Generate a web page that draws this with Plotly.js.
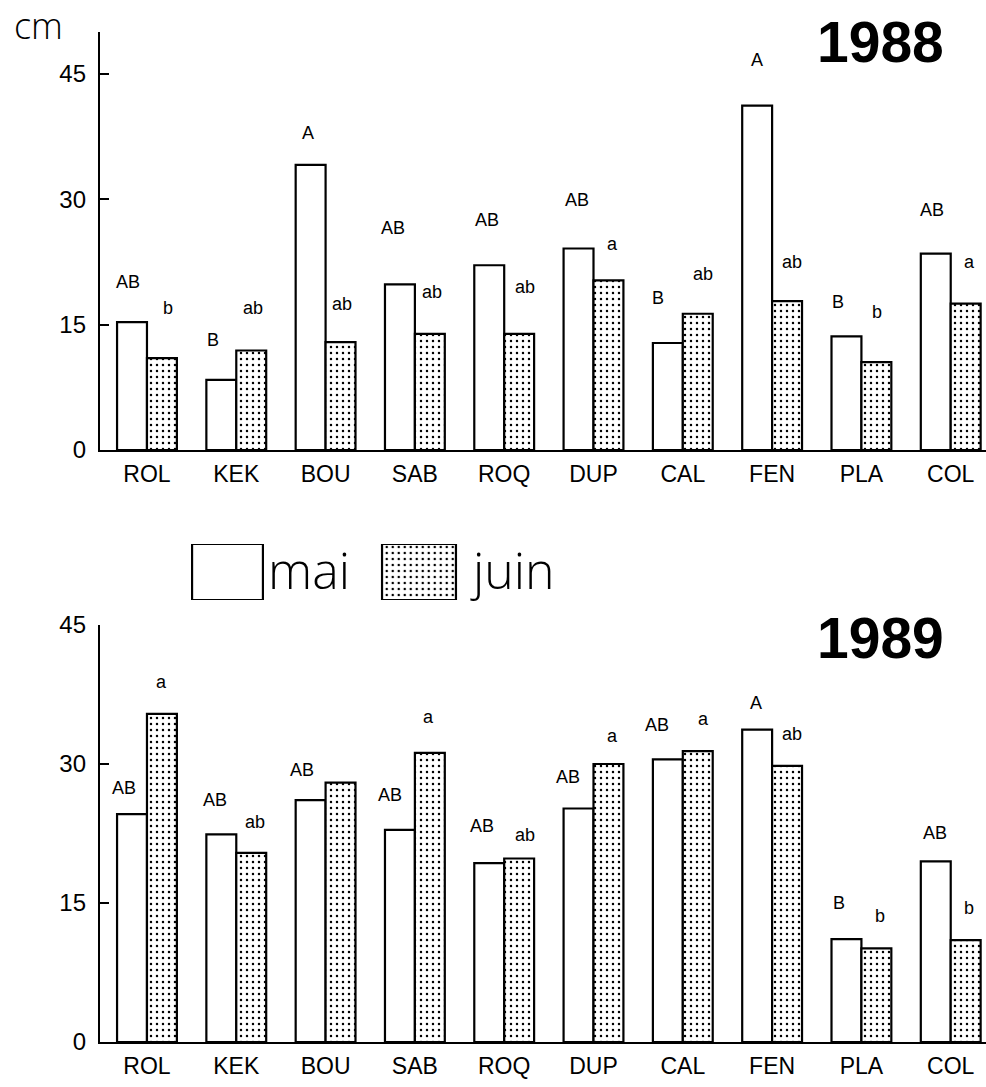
<!DOCTYPE html>
<html>
<head>
<meta charset="utf-8">
<script src="https://cdn.plot.ly/plotly-3.0.1.min.js"></script>
<style>
  html, body { margin: 0; padding: 0; background: #fff; }
  #chart { width: 986px; height: 1087px; }
</style>
</head>
<body>
<div id="chart"></div>
<script>
// Sites sampled, in plotting order
const sites = ['ROL', 'KEK', 'BOU', 'SAB', 'ROQ', 'DUP', 'CAL', 'FEN', 'PLA', 'COL'];

// Mean height (cm), 1988
const mai1988  = [15.3, 8.4, 34.1, 19.8, 22.1, 24.1, 12.8, 41.2, 13.6, 23.5];
const juin1988 = [11.0, 11.9, 12.9, 13.9, 13.9, 20.3, 16.3, 17.8, 10.5, 17.5];

// Mean height (cm), 1989
const mai1989  = [24.6, 22.4, 26.1, 22.9, 19.3, 25.2, 30.5, 33.7, 11.1, 19.5];
const juin1989 = [35.4, 20.4, 28.0, 31.2, 19.8, 30.0, 31.4, 29.8, 10.1, 11.0];

// Significance groups (upper case: mai, lower case: juin)
const maiGroups1988  = ['AB', 'B', 'A', 'AB', 'AB', 'AB', 'B', 'A', 'B', 'AB'];
const juinGroups1988 = ['b', 'ab', 'ab', 'ab', 'ab', 'a', 'ab', 'ab', 'b', 'a'];
const maiGroups1989  = ['AB', 'AB', 'AB', 'AB', 'AB', 'AB', 'AB', 'A', 'B', 'AB'];
const juinGroups1989 = ['a', 'ab', '', 'a', 'ab', 'a', 'a', 'ab', 'b', 'b'];

// Legend keys
const legendKeys = ['mai', 'juin'];
const legendKeyHeight = [1, 1];

// Placement of the group letters: horizontal nudge (in category units)
// and lift above the bar top (in cm)
const place = {
  mai1988:  { dx: [-0.21, -0.26, -0.20, -0.245, -0.19, -0.185, -0.28, -0.17, -0.26, -0.21],
              lift: [4.75, 4.8, 3.8, 6.8, 5.4, 5.8, 5.4, 5.45, 4.1, 5.2] },
  juin1988: { dx: [0.235, 0.187, 0.184, 0.19, 0.233, 0.218, 0.226, 0.223, 0.175, 0.205],
              lift: [6.0, 5.1, 4.6, 4.95, 5.6, 4.3, 4.7, 4.7, 6.0, 5.0] },
  mai1989:  { dx: [-0.258, -0.239, -0.268, -0.279, -0.252, -0.282, -0.292, -0.18, -0.247, -0.176],
              lift: [2.8, 3.7, 3.2, 3.8, 3.96, 3.45, 3.73, 2.9, 3.9, 3.05] },
  juin1989: { dx: [0.157, 0.209, 0, 0.15, 0.233, 0.215, 0.237, 0.22, 0.208, 0.208],
              lift: [3.4, 3.35, 0, 3.86, 2.5, 2.97, 3.5, 3.46, 3.45, 3.46] }
};

const W = 986, H = 1087;
const FONT = 'Liberation Sans, Arial, Helvetica, sans-serif';
const LIGHT = 'Open Sans, Lato, Liberation Sans, sans-serif';

const openBar = {
  color: '#ffffff',
  line: { color: '#000000', width: 2.2 }
};
const dottedBar = {
  color: '#ffffff',
  line: { color: '#000000', width: 2.2 },
  pattern: { shape: '.', fgcolor: '#000000', bgcolor: '#ffffff', size: 6, solidity: 0.13, fillmode: 'replace' }
};

function barTrace(y, marker, xa, ya, name) {
  return {
    type: 'bar', x: sites, y: y, name: name,
    xaxis: xa, yaxis: ya, marker: marker,
    hoverinfo: 'skip', showlegend: false
  };
}

const traces = [
  barTrace(mai1988, openBar, 'x', 'y', 'mai'),
  barTrace(juin1988, dottedBar, 'x', 'y', 'juin'),
  barTrace(mai1989, openBar, 'x2', 'y2', 'mai'),
  barTrace(juin1989, dottedBar, 'x2', 'y2', 'juin'),
  // legend swatches
  { type: 'bar', x: [0], y: [legendKeyHeight[0]], width: [0.37], xaxis: 'x3', yaxis: 'y3',
    marker: openBar, hoverinfo: 'skip', showlegend: false },
  { type: 'bar', x: [1], y: [legendKeyHeight[1]], width: [0.386], xaxis: 'x3', yaxis: 'y3',
    marker: dottedBar, hoverinfo: 'skip', showlegend: false }
];

// Letters above bars
const annotations = [];
function addLetters(groups, values, p, xref, yref) {
  groups.forEach((g, i) => {
    if (!g) return;
    annotations.push({
      xref: xref, yref: yref,
      x: i + p.dx[i], y: values[i] + p.lift[i],
      text: g, showarrow: false,
      xanchor: 'center', yanchor: 'middle',
      font: { family: FONT, size: 18, color: '#000' }
    });
  });
}
addLetters(maiGroups1988, mai1988, place.mai1988, 'x', 'y');
addLetters(juinGroups1988, juin1988, place.juin1988, 'x', 'y');
addLetters(maiGroups1989, mai1989, place.mai1989, 'x2', 'y2');
addLetters(juinGroups1989, juin1989, place.juin1989, 'x2', 'y2');

// Year titles, unit label, legend text
annotations.push(
  { xref: 'paper', yref: 'paper', x: 880 / W, y: 1 - 42 / H, text: '<b>1988</b>',
    showarrow: false, xanchor: 'center', yanchor: 'middle',
    font: { family: FONT, size: 57, color: '#000' } },
  { xref: 'paper', yref: 'paper', x: 880 / W, y: 1 - 638 / H, text: '<b>1989</b>',
    showarrow: false, xanchor: 'center', yanchor: 'middle',
    font: { family: FONT, size: 57, color: '#000' } },
  { xref: 'paper', yref: 'paper', x: 38 / W, y: 1, text: 'cm',
    showarrow: false, xanchor: 'center', yanchor: 'top', borderpad: 0,
    font: { family: LIGHT, size: 36, color: '#000', weight: 300 } },
  { xref: 'paper', yref: 'paper', x: 266 / W, y: 1 - 570 / H, text: legendKeys[0],
    showarrow: false, xanchor: 'left', yanchor: 'middle',
    font: { family: LIGHT, size: 50, color: '#000', weight: 300 } },
  { xref: 'paper', yref: 'paper', x: 468 / W, y: 1 - 570 / H, text: legendKeys[1],
    showarrow: false, xanchor: 'left', yanchor: 'middle',
    font: { family: LIGHT, size: 50, color: '#000', weight: 300 } }
);

const xCommon = {
  type: 'category', categoryorder: 'array', categoryarray: sites,
  range: [-0.526, 9.395], domain: [100 / W, 1],
  showline: true, linecolor: '#000', linewidth: 2.2,
  ticks: '', showgrid: false, zeroline: false,
  tickfont: { family: FONT, size: 23, color: '#000' },
  ticklabelstandoff: 2, fixedrange: true
};
const yCommon = {
  showline: true, linecolor: '#000', linewidth: 2.2,
  ticks: 'inside', ticklen: 9, tickwidth: 2, tickcolor: '#000',
  tickvals: [0, 15, 30, 45], showgrid: false, zeroline: false,
  tickfont: { family: FONT, size: 24, color: '#000' },
  ticklabelstandoff: 7, fixedrange: true
};

const layout = {
  width: W, height: H,
  margin: { l: 0, r: 0, t: 0, b: 0, pad: 0 },
  paper_bgcolor: '#fff', plot_bgcolor: 'rgba(0,0,0,0)',
  barmode: 'group', bargap: 0.33, bargroupgap: 0,
  showlegend: false,
  xaxis: Object.assign({}, xCommon, { anchor: 'y' }),
  yaxis: Object.assign({}, yCommon, { range: [0, 50], domain: [1 - 450 / H, 1 - 32 / H], anchor: 'x' }),
  xaxis2: Object.assign({}, xCommon, { anchor: 'y2' }),
  yaxis2: Object.assign({}, yCommon, { range: [0, 45], domain: [1 - 1042 / H, 1 - 625 / H], anchor: 'x2' }),
  xaxis3: { range: [-0.5, 1.5], domain: [131.75 / W, 514.75 / W], anchor: 'y3',
            visible: false, fixedrange: true },
  yaxis3: { range: [0, 1], domain: [1 - 600 / H, 1 - 544 / H], anchor: 'x3',
            visible: false, fixedrange: true },
  annotations: annotations
};

Plotly.newPlot('chart', traces, layout, { staticPlot: true, displayModeBar: false });
</script>
</body>
</html>
